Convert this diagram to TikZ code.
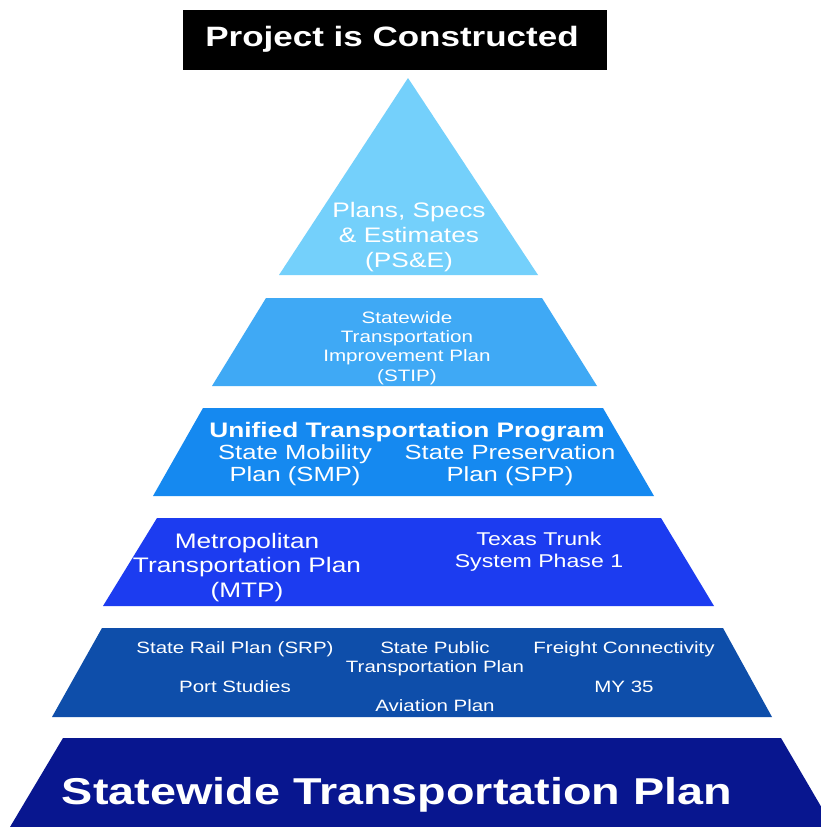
\documentclass[tikz,border=0pt]{standalone}
\usepackage{fontspec}
\setmainfont{Liberation Sans}[FakeStretch=1.25]
\definecolor{lvlpse}{HTML}{74D0FB}
\definecolor{lvlstip}{HTML}{3FA9F5}
\definecolor{lvlutp}{HTML}{1589F0}
\definecolor{lvlmtp}{HTML}{1C3CF0}
\definecolor{lvlplans}{HTML}{0E4EAA}
\definecolor{lvlstate}{HTML}{08168F}
\begin{document}
\begin{tikzpicture}
[
    x = 1pt, y = -1pt,
    lbl/.style = {text = white, align = center, inner sep = 0pt, anchor = base},
    fsize/.style 2 args = {font = \fontsize{#1}{#2}\selectfont},
    bsize/.style 2 args = {font = \bfseries\fontsize{#1}{#2}\selectfont}
]
\useasboundingbox (0,0) rectangle (821,827);
\clip (0,0) rectangle (821,827);
\fill[white] (0,0) rectangle (821,827);

% the levels, top to bottom
\node[fill = black, minimum width = 424pt, minimum height = 60pt, inner sep = 0pt] (box) at (395,40) {};
\fill[lvlpse] (408,78) -- (538,275) -- (279,275) -- cycle;
\fill[lvlstip] (266,298) -- (542,298) -- (597,386) -- (212,386) -- cycle;
\fill[lvlutp] (203,408) -- (603,408) -- (654,496) -- (153,496) -- cycle;
\fill[lvlmtp] (157,518) -- (661,518) -- (714,606) -- (103,606) -- cycle;
\fill[lvlplans] (102,628) -- (723,628) -- (772,717) -- (52,717) -- cycle;
\fill[lvlstate] (63,738) -- (781,738) -- (833,827) -- (10,827) -- cycle;

% texts, anchored at the baseline of their last line
\node[lbl, bsize = {28}{30}] (built) at (392,46) {Project is Constructed};
\node[lbl, fsize = {21}{25}] (pse) at (409,267) {Plans, Specs\\\& Estimates\\(PS\&E)};
\node[lbl, fsize = {16.5}{19.3}] (stip) at (407,381) {Statewide\\Transportation\\Improvement Plan\\(STIP)};
\node[lbl, bsize = {21}{22}] (utp) at (407,437) {Unified Transportation Program};
\node[lbl, fsize = {20.5}{22}] (smp) at (295,481) {State Mobility\\Plan (SMP)};
\node[lbl, fsize = {20.5}{22}] (spp) at (510,481) {State Preservation\\Plan (SPP)};
\node[lbl, fsize = {21}{24.5}] (mtp) at (247,597) {Metropolitan\\Transportation Plan\\(MTP)};
\node[lbl, fsize = {18.5}{21.6}] (trunk) at (539,567.5) {Texas Trunk\\System Phase 1};
\node[lbl, fsize = {16.4}{19.7}] (srp) at (235,653) {State Rail Plan (SRP)};
\node[lbl, fsize = {16.4}{19.7}] (transit) at (435,672.7) {State Public\\Transportation Plan};
\node[lbl, fsize = {16.4}{19.7}] (freight) at (624,653) {Freight Connectivity};
\node[lbl, fsize = {16.4}{19.7}] (port) at (235,692) {Port Studies};
\node[lbl, fsize = {16.4}{19.7}] (my) at (624,692) {MY 35};
\node[lbl, fsize = {16.4}{19.7}] (aviation) at (435,711) {Aviation Plan};
\node[lbl, bsize = {37.4}{40}] (stp) at (397,804) {Statewide Transportation Plan};
\end{tikzpicture}
\end{document}
